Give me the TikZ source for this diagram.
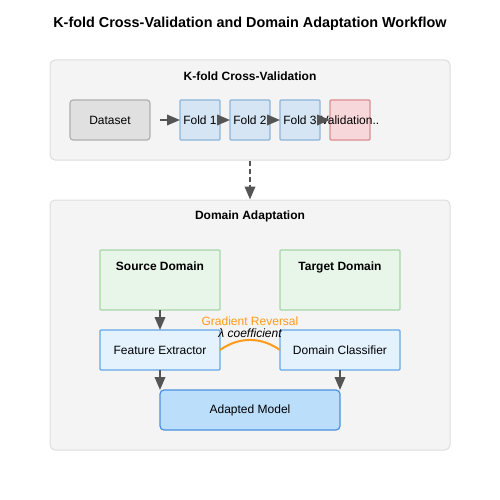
\documentclass[tikz,border=0pt]{standalone}
\usepackage{fontspec}
\setmainfont{Liberation Sans}
\usepackage{tikz}
\usetikzlibrary{positioning, arrows.meta, shapes}
\definecolor{panelfill}{HTML}{F4F4F4}
\definecolor{paneldraw}{HTML}{DDDDDD}
\definecolor{datafill}{HTML}{E0E0E0}
\definecolor{datadraw}{HTML}{B0B0B0}
\definecolor{foldfill}{HTML}{D5E5F3}
\definecolor{folddraw}{HTML}{8FB4D9}
\definecolor{validfill}{HTML}{F8D7DA}
\definecolor{validdraw}{HTML}{DC8C94}
\definecolor{domainfill}{HTML}{E8F5E9}
\definecolor{domaindraw}{HTML}{A5D6A7}
\definecolor{netfill}{HTML}{E3F2FD}
\definecolor{netdraw}{HTML}{64A8E6}
\definecolor{modelfill}{HTML}{BBDEFB}
\definecolor{modeldraw}{HTML}{4A90E2}
\definecolor{arrowgray}{HTML}{555555}
\definecolor{revorange}{HTML}{FF9A1A}
\tikzstyle{panel} = [rectangle, rounded corners=5pt, minimum width=400pt, draw=paneldraw, fill=panelfill, line width=1pt]
\tikzstyle{paneltitle} = [font=\fontsize{12}{14}\selectfont\bfseries]
\tikzstyle{databox} = [rectangle, rounded corners=3pt, minimum width=80pt, minimum height=40pt, outer sep=0pt, draw=datadraw, fill=datafill, line width=1.2pt]
\tikzstyle{fold} = [rectangle, rounded corners=1pt, minimum width=40pt, minimum height=40pt, inner sep=0pt, outer sep=0pt, draw=folddraw, fill=foldfill, line width=1.2pt]
\tikzstyle{validbox} = [fold, draw=validdraw, fill=validfill]
\tikzstyle{domainbox} = [rectangle, rounded corners=1pt, minimum width=120pt, minimum height=60pt, outer sep=0pt, draw=domaindraw, fill=domainfill, line width=1.2pt]
\tikzstyle{netbox} = [rectangle, rounded corners=1pt, minimum width=120pt, minimum height=40pt, outer sep=0pt, draw=netdraw, fill=netfill, line width=1.2pt]
\tikzstyle{modelbox} = [rectangle, rounded corners=4pt, minimum width=180pt, minimum height=40pt, outer sep=0pt, draw=modeldraw, fill=modelfill, line width=1.2pt]
\tikzstyle{arrow} = [line width=2pt, draw=arrowgray, -{Triangle[length=13pt,width=10.5pt]}]
\tikzstyle{dasharrow} = [arrow, dash pattern=on 5pt off 3pt]

\begin{document}
\begin{tikzpicture}[x=1pt, y=-1pt, font=\fontsize{12}{14}\selectfont]
        \useasboundingbox (0,0) rectangle (500,500);
        \node (title) [font=\fontsize{14.4}{17}\selectfont\bfseries] at (250,24) {K-fold Cross-Validation and Domain Adaptation Workflow};

        % cross-validation panel
        \node (cvpanel) [panel, minimum height=100pt] at (250,110) {};
        \node (cvtitle) [paneltitle] at (250,76) {K-fold Cross-Validation};
        \node (dataset) [databox] at (110,120) {Dataset};
        \node (fold1) [fold, right=30pt of dataset] {Fold 1};
        \node (fold2) [fold, right=10pt of fold1] {Fold 2};
        \node (fold3) [fold, right=10pt of fold2] {Fold 3};
        \node (valid) [validbox, right=10pt of fold3] {\makebox[0pt]{Validation..}};

        \draw [arrow] ([xshift=10pt]dataset.east) -- (fold1);
        \draw [arrow] (fold1) -- (fold2);
        \draw [arrow] (fold2) -- (fold3);
        \draw [arrow] (fold3) -- (valid);

        % domain adaptation panel
        \node (dapanel) [panel, minimum height=250pt] at (250,325) {};
        \node (datitle) [paneltitle] at (250,216) {Domain Adaptation};
        \node (source) [domainbox, label={[paneltitle, anchor=north, yshift=-8pt]north:Source Domain}] at (160,280) {};
        \node (target) [domainbox, label={[paneltitle, anchor=north, yshift=-8pt]north:Target Domain}, right=60pt of source] {};
        \node (feat) [netbox, below=20pt of source] {Feature Extractor};
        \node (domcls) [netbox, below=20pt of target] {Domain Classifier};
        \node (adapted) [modelbox] at (250,410) {Adapted Model};

        \draw [dasharrow] (cvpanel) -- (dapanel);
        \draw [arrow] (source) -- (feat);
        \draw [arrow] (feat.south) -- (feat.south |- adapted.north);
        \draw [arrow] (domcls.south) -- (domcls.south |- adapted.north);
        \draw [revorange, line width=2pt] (feat.east) to[bend left=35]
            node[midway, anchor=south, text=black, inner sep=1pt] (coef) {\itshape λ coefficient} (domcls.west);
        \node (grad) [text=revorange, inner sep=1pt, above=0pt of coef] {Gradient Reversal};
\end{tikzpicture}
\end{document}
